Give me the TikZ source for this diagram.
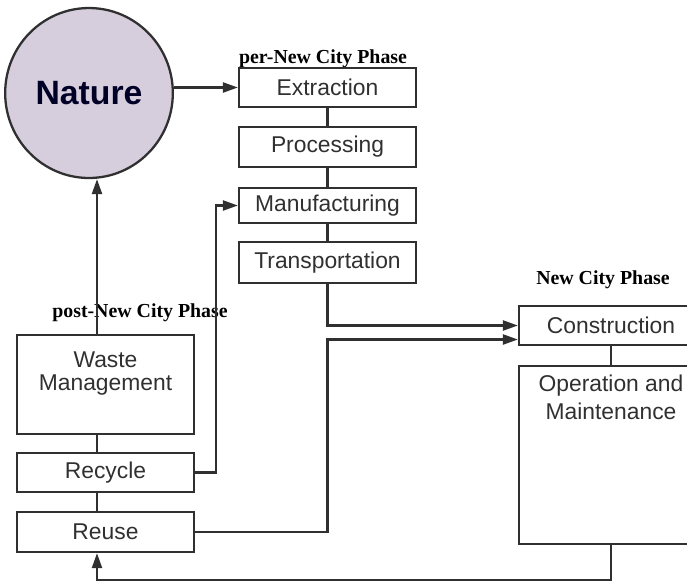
\documentclass[tikz,border=0pt]{standalone}
\usepackage{fontspec}
\setmainfont{Liberation Sans}
\newfontfamily\phasefont{Liberation Serif}
\usetikzlibrary{arrows.meta,shapes.geometric}

\definecolor{naturefill}{HTML}{D6CDDD}
\definecolor{linegray}{HTML}{303030}

\begin{document}
\begin{tikzpicture}[x=0.02cm, y=-0.02cm, >={Triangle[length=0.3cm, width=0.2cm]},
        line width=1.3pt, color=linegray,
        box/.style={rectangle, draw, inner sep=0pt, minimum width=3.54cm,
            minimum height=0.8cm, font=\fontsize{13}{15}\selectfont},
        right box/.style={box, minimum width=3.68cm},
        box text/.style={anchor=north, align=center, inner sep=0pt, text=linegray},
        phase/.style={font=\phasefont\bfseries\fontsize{11.3}{13}\selectfont, text=black}]

    \useasboundingbox (0,0) rectangle (687,583);
    \clip (0,0) rectangle (687,583);

    % Nature
    \node[ellipse, draw, fill=naturefill, minimum width=2.96cm, minimum height=3.4cm,
        text=black!85!blue, font=\bfseries\fontsize{19.2}{22}\selectfont] (nature) at (89,93) {Nature};

    % Phase titles
    \node[phase] (pre title) at (323,59) {per-New City Phase};
    \node[phase] (post title) at (140,313) {post-New City Phase};
    \node[phase] (new title) at (603,280) {New City Phase};

    % per-New City Phase
    \node[box, minimum height=0.78cm] (extraction) at (327.5,87.5) {Extraction};
    \node[box] (processing) at (327.5,147) {Processing};
    \node[box, minimum height=0.7cm] (manufacturing) at (327.5,205.5) {Manufacturing};
    \node[box, minimum height=0.81cm] (transportation) at (327.5,262.5) {Transportation};

    % New City Phase
    \node[right box, minimum height=0.78cm] (construction) at (611,325.5) {Construction};
    \node[right box, minimum height=3.56cm,
        label={[box text, yshift=-0.18cm, font=\fontsize{13}{16}\selectfont]north:{Operation and\\Maintenance}}]
        (operation) at (611,455) {};

    % post-New City Phase
    \node[box, minimum height=1.98cm,
        label={[box text, yshift=-0.34cm, font=\fontsize{13}{13}\selectfont]north:{Waste\\Management}}]
        (waste) at (105.5,384.5) {};
    \node[box, minimum height=0.78cm] (recycle) at (105.5,472.5) {Recycle};
    \node[box] (reuse) at (105.5,532) {Reuse};

    \coordinate (spine) at (97,0);
    \coordinate (loop) at (97,580);
    \coordinate (in2) at ([yshift=-0.28cm]construction.west);

    % Links inside the phases
    \path (extraction) edge (processing);
    \path (processing) edge (manufacturing);
    \path (manufacturing) edge (transportation);
    \path (construction) edge (operation);
    \draw (waste.south -| spine) -- (recycle.north -| spine);
    \draw (recycle.south -| spine) -- (reuse.north -| spine);

    % Flows
    \draw[->] (extraction.west -| nature.east) -- (extraction.west);
    \draw[->] (waste.north -| spine) -- (nature.south -| spine);
    \draw[->] (recycle.east) -- ++(21,0) |- (manufacturing.west);
    \draw[->] (transportation.south) |- (construction.west);
    \draw[->] (reuse.east) -| (in2 -| transportation.south) -- (in2);
    \draw[->] (operation.south) |- (loop) -- (reuse.south -| loop);
\end{tikzpicture}
\end{document}
